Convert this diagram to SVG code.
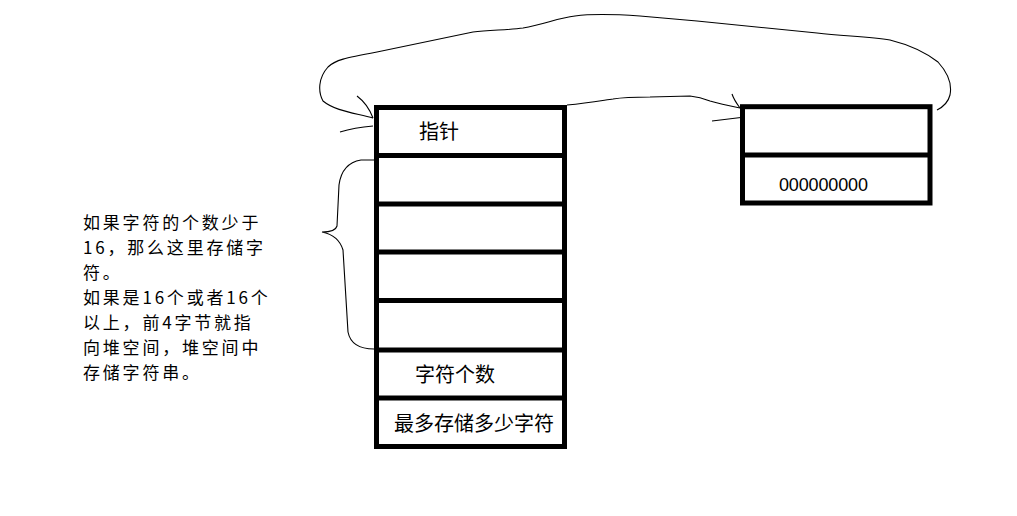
<svg xmlns="http://www.w3.org/2000/svg" width="1017" height="516" viewBox="0 0 1017 516">
<style>
.box{fill:#fff;stroke:#000;stroke-width:5}
.div{stroke:#000;stroke-width:5}
.cn{fill:none;stroke:#000;stroke-width:1.1}
.t{font-family:"Noto Sans CJK SC","Liberation Sans",sans-serif;font-size:20px;fill:#000}
.note{font-family:"Noto Sans CJK SC","Liberation Sans",sans-serif;font-size:17px;letter-spacing:2.8px;fill:#000}
.num{font-family:"Liberation Sans",sans-serif;font-size:18px;fill:#000}
</style>
<rect width="1017" height="516" fill="#fff"/>
<g id="string-struct">
<rect class="box" x="376.5" y="107.5" width="188" height="339"/>
<line class="div" x1="376.5" y1="155.5" x2="564.5" y2="155.5"/>
<line class="div" x1="376.5" y1="204" x2="564.5" y2="204"/>
<line class="div" x1="376.5" y1="252" x2="564.5" y2="252"/>
<line class="div" x1="376.5" y1="300.5" x2="564.5" y2="300.5"/>
<line class="div" x1="376.5" y1="350" x2="564.5" y2="350"/>
<line class="div" x1="376.5" y1="398" x2="564.5" y2="398"/>
<text class="t" x="419" y="138.5">指针</text>
<text class="t" x="415" y="382">字符个数</text>
<text class="t" x="394" y="430.5">最多存储多少字符</text>
</g>
<g id="heap-block">
<rect class="box" x="742.5" y="106.7" width="187.5" height="96.3"/>
<line class="div" x1="742.5" y1="155" x2="930" y2="155"/>
<text class="num" x="779" y="190.5" textLength="89">000000000</text>
</g>
<g id="note">
<text class="note" x="83" y="229">如果字符的个数少于<tspan x="83" dy="25">16，那么这里存储字</tspan><tspan x="83" dy="25">符。</tspan><tspan x="83" dy="25">如果是16个或者16个</tspan><tspan x="83" dy="25">以上，前4字节就指</tspan><tspan x="83" dy="25">向堆空间，堆空间中</tspan><tspan x="83" dy="25">存储字符串。</tspan></text>
</g>
<g id="connectors">
<path class="cn" d="M374,160 L361,160 C349,162 341,170 339,185 L337,226 C336,230 331,232 322,232 C332,234 340,240 343,250 L348,332 C350,342 358,349 374,349"/>
<path class="cn" d="M373,118 C355,113 335,111 323,101 C318,92 318,78 328,67 C335,60 345,58 377,52 L473,32 C490,30 510,30 523,28 C545,24 558,18 575,16 C590,14 610,14 640,16 L697,21 L817,33 C845,36 870,37 890,40 C910,45 925,52 938,62 C948,73 952,85 950,95 C948,103 943,107 937,110"/>
<path class="cn" d="M357,96 C365,102 370,110 373,118"/>
<path class="cn" d="M340,132 C350,129 362,127 373,126"/>
<path class="cn" d="M567,105 C590,103 605,100 613,99 C625,97 635,97 650,97 L690,96 C700,97 705,99 710,101 C720,104 730,106 740,108"/>
<path class="cn" d="M732,94 C734,100 737,104 740,108"/>
<path class="cn" d="M712,121 L745,117"/>
</g>
</svg>
